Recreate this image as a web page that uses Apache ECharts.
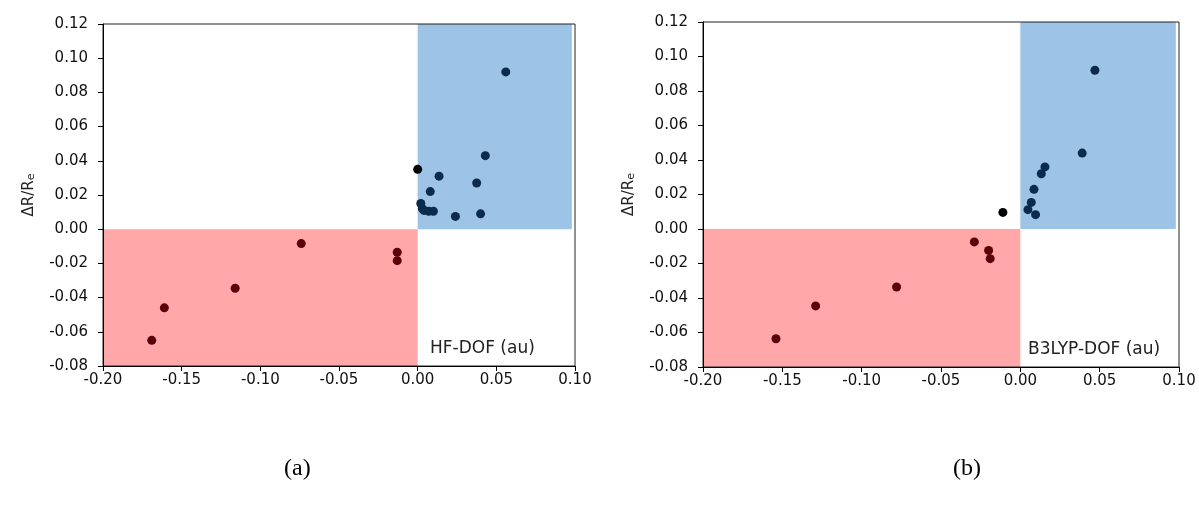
<!DOCTYPE html>
<html>
<head>
<meta charset="utf-8">
<script src="https://cdn.jsdelivr.net/npm/echarts@6/dist/echarts.min.js"></script>
<style>
html,body{margin:0;padding:0;background:#fff;}
#chart{width:1199px;height:511px;}
</style>
</head>
<body>
<div id="chart"></div>
<script>
// ---- data ----
const xTicks = [-0.20, -0.15, -0.10, -0.05, 0.00, 0.05, 0.10];
const yTicks = [-0.08, -0.06, -0.04, -0.02, 0.00, 0.02, 0.04, 0.06, 0.08, 0.10, 0.12];

const hfBlueX = [0.056, 0.043, 0.0136, 0.0375, 0.008, 0.002, 0.003, 0.004, 0.007, 0.010, 0.024, 0.040];
const hfBlueY = [0.092, 0.043, 0.031, 0.027, 0.022, 0.015, 0.012, 0.011, 0.0105, 0.0105, 0.0075, 0.009];
const hfBlackX = [0.000];
const hfBlackY = [0.035];
const hfRedX = [-0.169, -0.161, -0.116, -0.074, -0.013, -0.013];
const hfRedY = [-0.065, -0.046, -0.0345, -0.0084, -0.0135, -0.0184];

const b3BlueX = [0.047, 0.039, 0.0155, 0.0132, 0.0086, 0.0069, 0.0048, 0.0096];
const b3BlueY = [0.092, 0.044, 0.036, 0.032, 0.023, 0.0154, 0.0112, 0.0083];
const b3BlackX = [-0.011];
const b3BlackY = [0.0096];
const b3RedX = [-0.154, -0.129, -0.078, -0.029, -0.020, -0.019];
const b3RedY = [-0.0636, -0.0446, -0.0336, -0.0075, -0.0124, -0.0172];

// shaded quadrants [x1, y1, x2, y2]
const blueQuad = [0.0, 0.12, 0.098, 0.0];
const redQuad = [-0.2, 0.0, 0.0, -0.08];

const panelNames = ['HF-DOF (au)', 'B3LYP-DOF (au)'];
const captions = ['(a)', '(b)'];
const yName = 'ΔR/R';

// ---- build ----
const zip = (xs, ys) => xs.map((x, i) => [x, ys[i]]);
const FONT = 'DejaVu Sans';
const chart = echarts.init(document.getElementById('chart'));

const grids = [
  {left: 103, right: 624, top: 24, bottom: 145},
  {left: 703, right: 20, top: 22, bottom: 144}
];

function xAxisFor(i) {
  return {
    type: 'value', gridIndex: i, min: xTicks[0], max: xTicks[xTicks.length - 1], interval: 0.05,
    z: 10,
    axisLine: {onZero: false, lineStyle: {color: '#000', width: 1}},
    axisTick: {show: true, inside: false, length: 5, lineStyle: {color: '#000'}},
    splitLine: {show: false},
    axisLabel: {
      margin: 7, color: '#111', fontFamily: FONT, fontSize: 15,
      formatter: v => v.toFixed(2)
    }
  };
}
function yAxisFor(i) {
  return {
    type: 'value', gridIndex: i, min: yTicks[0], max: yTicks[yTicks.length - 1], interval: 0.02,
    z: 10,
    axisLine: {onZero: false, lineStyle: {color: '#000', width: 1}},
    axisTick: {show: true, inside: false, length: 5, lineStyle: {color: '#000'}},
    splitLine: {show: false},
    axisLabel: {
      margin: 15, color: '#111', fontFamily: FONT, fontSize: 15,
      formatter: v => v.toFixed(2)
    },
    name: '{a|' + yName + '}{s|e}',
    nameLocation: 'middle',
    nameGap: 66,
    nameRotate: 90,
    nameTextStyle: {
      rich: {
        a: {fontFamily: FONT, fontSize: 15, color: '#222'},
        s: {fontFamily: FONT, fontSize: 11, color: '#222', verticalAlign: 'bottom'}
      }
    }
  };
}

function areaSeries(i) {
  return {
    type: 'scatter', xAxisIndex: i, yAxisIndex: i, data: [], z: 1, silent: true,
    markArea: {
      silent: true,
      data: [
        [{coord: [blueQuad[0], blueQuad[1]], itemStyle: {color: '#9DC3E6'}}, {coord: [blueQuad[2], blueQuad[3]]}],
        [{coord: [redQuad[0], redQuad[1]], itemStyle: {color: '#FFA7A9'}}, {coord: [redQuad[2], redQuad[3]]}]
      ]
    }
  };
}
function pts(i, xs, ys, color, size) {
  return {
    type: 'scatter', xAxisIndex: i, yAxisIndex: i, z: 3,
    symbol: 'circle', symbolSize: size,
    itemStyle: {color: color, opacity: 1},
    data: zip(xs, ys)
  };
}

const option = {
  animation: false,
  backgroundColor: '#fff',
  grid: grids.map(g => Object.assign({show: true, z: 10, backgroundColor: 'transparent', borderColor: '#222', borderWidth: 1}, g)),
  xAxis: [xAxisFor(0), xAxisFor(1)],
  yAxis: [yAxisFor(0), yAxisFor(1)],
  series: [
    areaSeries(0), areaSeries(1),
    pts(0, hfRedX, hfRedY, '#5A0008', 9),
    pts(0, hfBlueX, hfBlueY, '#0A2B4C', 9),
    pts(0, hfBlackX, hfBlackY, '#000', 9),
    pts(1, b3RedX, b3RedY, '#5A0008', 9),
    pts(1, b3BlueX, b3BlueY, '#0A2B4C', 9),
    pts(1, b3BlackX, b3BlackY, '#000', 9)
  ],
  graphic: [
    {type: 'text', left: 430, top: 340, z: 20, style: {text: panelNames[0], fontFamily: FONT, fontSize: 17, fill: '#222'}},
    {type: 'text', left: 1028, top: 341, z: 20, style: {text: panelNames[1], fontFamily: FONT, fontSize: 17, fill: '#222'}},
    {type: 'text', left: 284, top: 457, style: {text: captions[0], fontFamily: 'Liberation Serif', fontSize: 24, fill: '#000'}},
    {type: 'text', left: 953, top: 457, style: {text: captions[1], fontFamily: 'Liberation Serif', fontSize: 24, fill: '#000'}}
  ]
};
chart.setOption(option);
</script>
</body>
</html>
